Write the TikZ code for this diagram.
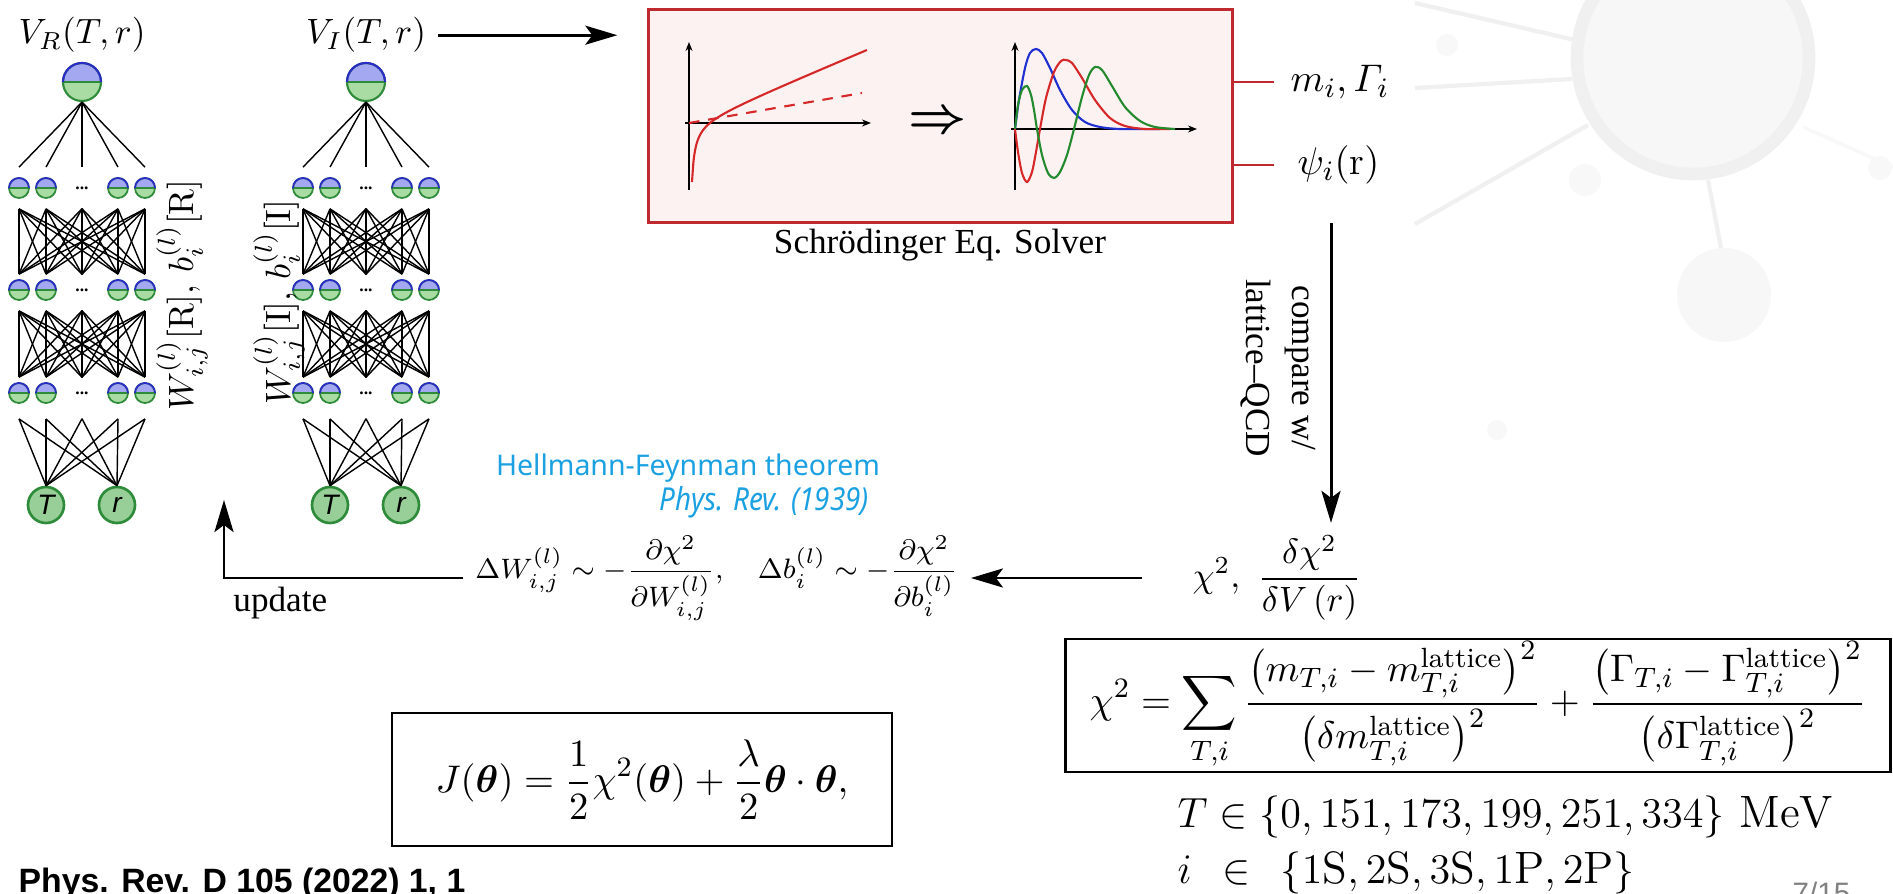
\documentclass[tikz,border=0pt]{standalone}
\usepackage{amsmath}
\usepackage{bm}
\usepackage{fontspec}
\usetikzlibrary{arrows.meta}

\newfontfamily\tms{Liberation Serif}
\newfontfamily\nnsans{Liberation Sans}
\newfontfamily\hfsans{Noto Sans}

\definecolor{nnblueL}{HTML}{A3A8F0}
\definecolor{nngreenL}{HTML}{A8DCA2}
\definecolor{nnblue}{HTML}{2B2BC8}
\definecolor{nngreen}{HTML}{2E8B3A}
\definecolor{inGreen}{HTML}{98CF98}
\definecolor{boxred}{HTML}{BE2A30}
\definecolor{boxpink}{HTML}{FDF2F2}
\definecolor{curveRed}{HTML}{D62828}
\definecolor{curveBlue}{HTML}{2030D0}
\definecolor{curveGreen}{HTML}{238A2E}
\definecolor{hfcyan}{HTML}{1BA1E2}
\definecolor{pagegray}{HTML}{808080}
\definecolor{decoRing}{HTML}{F0F0F0}
\definecolor{decoFill}{HTML}{F8F7F7}
\definecolor{decoDot}{HTML}{F8F8F8}

\begin{document}
\begin{tikzpicture}[x=0.01cm, y=-0.01cm,
    figtxt/.style={font=\tms\fontsize{10}{12}\selectfont},
    halfball/.style={circle, inner sep=0pt, draw=nngreen,
        path picture={
            \fill[nnblueL] (path picture bounding box.north west) rectangle (path picture bounding box.east);
            \fill[nngreenL] (path picture bounding box.west) rectangle (path picture bounding box.south east);
            \draw[nngreen, line width=0.5pt] (path picture bounding box.west) -- (path picture bounding box.east);
        }},
    neuron/.style={halfball, minimum size=0.2cm, line width=0.5pt,
        postaction={draw=nnblue, line width=0.5pt, dash pattern=on 8.94pt off 8.94pt}},
    outneuron/.style={halfball, minimum size=0.38cm, line width=0.6pt,
        postaction={draw=nnblue, line width=0.6pt, dash pattern=on 16.98pt off 16.98pt}},
    inneuron/.style={circle, minimum size=0.36cm, inner sep=0pt, fill=inGreen, draw=nngreen,
        line width=0.75pt, font=\nnsans\itshape\fontsize{8}{8}\selectfont},
    gapdots/.style={circle, minimum size=0.2cm, inner sep=0pt, font=\tms\bfseries\fontsize{5}{5}\selectfont},
    wire/.style={line width=0.4pt},
    arr/.style={-{Stealth[length=0.32cm, width=0.19cm, inset=0.07cm]}, line width=0.85pt},
    stub/.style={draw=boxred, line width=0.85pt},
    axis/.style={-{Stealth[length=0.09cm, width=0.07cm]}, line width=0.4pt},
    eqbox/.style={draw, line width=0.75pt, inner sep=0pt}
]
    \useasboundingbox (0,0) rectangle (1893,894);
    \fill[white] (0,0) rectangle (1893,894);

    % faint slide decoration in the top right corner
    \draw[decoRing, line width=1.2pt] (1415,3) -- (1575,40);
    \draw[decoRing, line width=1.2pt] (1415,88) -- (1572,79);
    \draw[decoRing, line width=1.2pt] (1415,224) -- (1588,125);
    \draw[decoRing, line width=1.2pt] (1708,180) -- (1721,248);
    \draw[decoDot, line width=1pt] (1803,127) -- (1893,167);
    \fill[decoDot] (1447,45) circle [radius=11];
    \fill[decoDot] (1585,180) circle [radius=16];
    \fill[decoDot] (1880,168) circle [radius=12];
    \fill[decoDot] (1497,430) circle [radius=10];
    \filldraw[fill=decoFill, draw=decoRing, line width=3.6pt] (1693,58) circle [radius=116];
    \fill[decoFill] (1724,295) circle [radius=47];

    % the two networks, V_R and V_I
    \node[figtxt, anchor=base] (vR) at (82,44) {$V_R(T,r)$};
    \node[figtxt, anchor=base] (vI) at (366,44) {$V_I(T,r)$};
    \foreach \net/\dx in {R/0, I/284} {
        \node[outneuron] (\net-out) at (82+\dx,82) {};
        \foreach \row/\y in {1/188, 2/290, 3/393} {
            \foreach \k/\x in {1/19, 2/46, 4/118, 5/145}
                \node[neuron] (\net-\row-\k) at (\x+\dx,\y) {};
            \node[gapdots] (\net-\row-3) at (82+\dx,\y) {...};
        }
        \node[inneuron] (\net-T) at (46+\dx,505) {T};
        \node[inneuron] (\net-r) at (117+\dx,505) {r};
        % weights between the layers
        \foreach \a in {1,...,5} {
            \draw[wire] (\net-out.south) -- ([yshift=0.1cm]\net-1-\a.north);
            \foreach \b in {1,...,5} {
                \draw[wire] ([yshift=-0.1cm]\net-1-\a.south) -- ([yshift=0.05cm]\net-2-\b.north);
                \draw[wire] ([yshift=-0.1cm]\net-2-\a.south) -- ([yshift=0.05cm]\net-3-\b.north);
            }
            \draw[wire] ([yshift=-0.15cm]\net-3-\a.south) -- (\net-T.north);
            \draw[wire] ([yshift=-0.15cm]\net-3-\a.south) -- (\net-r.north);
        }
    }
    \node[figtxt, rotate=90] (wR) at (182,295) {$W^{(l)}_{i,j}[\mathrm{R}],\, b^{(l)}_i[\mathrm{R}]$};
    \node[figtxt, rotate=90] (wI) at (279,302) {$W^{(l)}_{i,j}[\mathrm{I}],\, b^{(l)}_i[\mathrm{I}]$};

    % Schroedinger solver box
    \node[draw=boxred, fill=boxpink, line width=0.85pt, minimum width=5.83cm, minimum height=2.12cm] (solver) at (940.5,116) {};
    \draw[arr, shorten >=0.3cm] (vI.east) -- (vI.east -| solver.west);
    \node[figtxt] (solverlbl) at (940,245) {Schrödinger Eq. Solver};
    % left panel: the potential
    \draw[axis] (689,190) -- (689,42);
    \draw[axis] (685,123) -- (871,123);
    \draw[curveRed, line width=0.6pt, domain=3:178, samples=120, smooth]
        plot ({689+\x},{123-(0.4168*(\x-21)-180.2*(1/\x-1/21))});
    \draw[curveRed, line width=0.6pt, dash pattern=on 3pt off 2.5pt] (689,123) -- (862,93);
    \node[font=\fontsize{15}{15}\selectfont] (implies) at (938,123) {$\bm{\Rightarrow}$};
    % right panel: the wave functions
    \draw[axis] (1015,190) -- (1015,42);
    \draw[axis] (1011,129) -- (1197,129);
    \draw[curveBlue, line width=0.6pt] plot[smooth] coordinates {(1015,129) (1019,100) (1025,68) (1030,53)
        (1036,49) (1042,53) (1050,68) (1060,90) (1072,110) (1085,122) (1100,127) (1120,129) (1160,129)};
    \draw[curveRed, line width=0.6pt] plot[smooth] coordinates {(1015,129) (1018,152) (1022,173) (1027,182)
        (1032,172) (1036,152) (1040,129) (1046,98) (1054,72) (1061,61) (1066,60) (1072,63) (1082,78)
        (1095,100) (1110,118) (1125,126) (1145,129) (1170,129)};
    \draw[curveGreen, line width=0.6pt] plot[smooth] coordinates {(1015,129) (1018,105) (1022,90) (1027,86)
        (1031,95) (1034,110) (1037,129) (1042,155) (1048,173) (1054,178) (1060,172) (1067,155) (1074,129)
        (1082,97) (1089,75) (1095,67) (1102,70) (1112,86) (1125,107) (1140,121) (1155,127) (1175,129)};

    % solver outputs
    \node[figtxt, anchor=west, inner sep=0pt, font=\fontsize{11}{12}\selectfont] (mass) at (1290,82) {$m_i, \varGamma_i$};
    \node[figtxt, anchor=west, inner sep=0pt, font=\fontsize{11}{12}\selectfont] (psi) at (1297,165) {$\psi_i(\mathrm{r})$};
    \draw[stub, shorten >=0.16cm] (solver.east |- mass.west) -- (mass.west);
    \draw[stub, shorten >=0.23cm] (solver.east |- psi.west) -- (psi.west);

    % comparison with lattice QCD and the gradient step back to the networks
    \node[figtxt, font=\tms\fontsize{10}{13}\selectfont, rotate=-90, align=center] (cmp) at (1278,368) {compare w/\\lattice–QCD};
    \coordinate (cmpTop) at (1331,223);
    \node[font=\fontsize{10}{12}\selectfont] (chi) at (1277,578) {$\displaystyle \chi^2,\ \frac{\delta\chi^2}{\delta V\,(r)}$};
    \draw[arr] (cmpTop) -- (cmpTop |- chi.north);
    \node[font=\fontsize{8.4}{12}\selectfont] (grad) at (717,578)
        {$\displaystyle \Delta W^{(l)}_{i,j} \sim -\frac{\partial\chi^2}{\partial W^{(l)}_{i,j}},\quad
          \Delta b^{(l)}_i \sim -\frac{\partial\chi^2}{\partial b^{(l)}_i}$};
    \draw[arr, shorten <=0.38cm] (chi.west) -- (chi.west -| grad.east);
    \coordinate (updTip) at (224,500);
    \draw[arr] (grad.west) -- (grad.west -| updTip) -- (updTip);
    \node[figtxt, anchor=west] (upd) at (221,603) {update};

    \node[font=\hfsans\bfseries\fontsize{8.1}{9}\selectfont, text=hfcyan] (hf) at (688,468) {Hellmann-Feynman theorem};
    \node[font=\hfsans\itshape\fontsize{9}{10}\selectfont, text=hfcyan, anchor=east, xscale=0.88] (hfref) at (880,502) {Phys. Rev. (1939)};

    % loss functions
    \node[eqbox, font=\fontsize{11.3}{14}\selectfont, minimum width=8.24cm, minimum height=1.33cm] (chibox) at (1478,705.5)
        {$\displaystyle \chi^2=\sum_{T,i}\frac{\bigl(m_{T,i}-m^{\mathrm{lattice}}_{T,i}\bigr)^2}{\bigl(\delta m^{\mathrm{lattice}}_{T,i}\bigr)^2}
          +\frac{\bigl(\Gamma_{T,i}-\Gamma^{\mathrm{lattice}}_{T,i}\bigr)^2}{\bigl(\delta\Gamma^{\mathrm{lattice}}_{T,i}\bigr)^2}$};
    \node[font=\fontsize{12.9}{14}\selectfont, anchor=base west, inner sep=0pt] (Tset) at (1177,827)
        {$T \in \{0, 151, 173, 199, 251, 334\}\ \mathrm{MeV}$};
    \node[font=\fontsize{12.9}{14}\selectfont, anchor=base west, inner sep=0pt] (iset) at (1177,883)
        {$i\;\,\in\;\,\{1\mathrm{S}, 2\mathrm{S}, 3\mathrm{S}, 1\mathrm{P}, 2\mathrm{P}\}$};
    \node[eqbox, font=\fontsize{11}{14}\selectfont, minimum width=5.0cm, minimum height=1.33cm] (jbox) at (642,779.5)
        {$\displaystyle J(\bm{\theta})=\frac{1}{2}\chi^2(\bm{\theta})+\frac{\lambda}{2}\bm{\theta}\cdot\bm{\theta},$\hspace{0.24cm}};

    % slide footer
    \node[font=\nnsans\bfseries\fontsize{9.6}{11}\selectfont, anchor=base west, inner sep=0pt] (ref) at (18,892) {Phys. Rev. D 105 (2022) 1, 1};
    \node[font=\nnsans\fontsize{8.4}{10}\selectfont, text=pagegray, anchor=base west, inner sep=0pt] (pgno) at (1792,903) {7/15};
\end{tikzpicture}
\end{document}
